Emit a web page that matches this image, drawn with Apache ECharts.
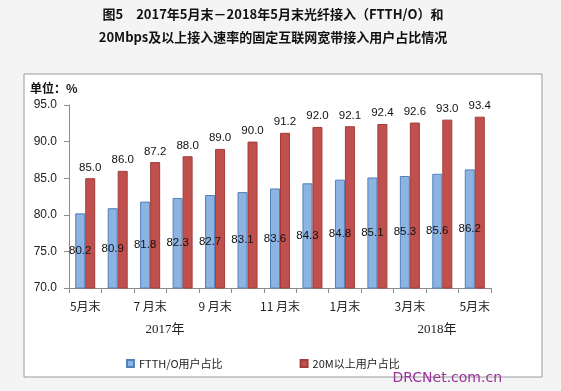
<!DOCTYPE html>
<html><head><meta charset="utf-8">
<script src="https://cdn.jsdelivr.net/npm/echarts@6/dist/echarts.min.js"></script>
<style>html,body{margin:0;padding:0;background:#f4f4f4}#c{width:561px;height:391px}</style>
</head><body><div id="c"></div>
<script>
const categories = ['5月末','6月末','7 月末','8月末','9 月末','10月末','11 月末','12月末','1月末','2月末','3月末','4月末','5月末'];
const ftthValues = [80.2,80.9,81.8,82.3,82.7,83.1,83.6,84.3,84.8,85.1,85.3,85.6,86.2];
const m20Values = [85.0,86.0,87.2,88.0,89.0,90.0,91.2,92.0,92.1,92.4,92.6,93.0,93.4];
const seriesNames = ['FTTH/O用户占比','20M以上用户占比'];
const yearLabels = ['2017年','2018年'];
const titleText = '图5　2017年5月末－2018年5月末光纤接入（FTTH/O）和\n20Mbps及以上接入速率的固定互联网宽带接入用户占比情况';

const CJK = '"Noto Sans CJK SC","Noto Sans",sans-serif';
const NUM = '"Liberation Sans","Noto Sans CJK SC",sans-serif';
const chart = echarts.init(document.getElementById('c'), null, {renderer:'canvas'});
chart.setOption({
  backgroundColor:'#f4f4f4',
  animation:false,
  title:{text:titleText,left:268,top:-2,textAlign:'center',
    textStyle:{fontFamily:CJK,fontSize:13,fontWeight:'bold',color:'#111',lineHeight:23}},
  graphic:[
    {type:'rect',z:-10,shape:{x:24,y:74,width:518,height:303},style:{fill:'#fff',stroke:'#9a9a9a',lineWidth:1}},
    {type:'text',left:30,top:82,style:{text:'单位：%',font:'bold 12px '+CJK,fill:'#111'}},
    {type:'text',x:165,y:330,style:{text:yearLabels[0],font:'13px "Liberation Serif","Noto Sans CJK SC",serif',fill:'#222',align:'center',verticalAlign:'middle'}},
    {type:'text',x:437,y:330,style:{text:yearLabels[1],font:'13px "Liberation Serif","Noto Sans CJK SC",serif',fill:'#222',align:'center',verticalAlign:'middle'}},
    {type:'text',x:502,y:378,style:{text:'DRCNet.com.cn',font:'14px "DejaVu Sans",sans-serif',fill:'#993399',align:'right',verticalAlign:'middle'}}
  ],
  legend:{top:353,left:121,itemWidth:7,itemHeight:7,itemGap:77,icon:'rect',
    textStyle:{fontFamily:CJK,fontSize:11,color:'#222'},data:seriesNames},
  grid:{left:69,right:70,top:105,bottom:103,containLabel:false},
  xAxis:{type:'category',data:categories,
    axisLine:{lineStyle:{color:'#8c8c8c'}},
    axisTick:{show:true,interval:0,length:5,lineStyle:{color:'#8c8c8c'}},
    axisLabel:{interval:1,margin:12,fontFamily:CJK,fontSize:12,color:'#222'}},
  yAxis:{type:'value',min:70,max:95,interval:5,
    axisLine:{show:true,lineStyle:{color:'#8c8c8c'}},
    axisTick:{show:true,length:5,lineStyle:{color:'#8c8c8c'}},
    splitLine:{show:false},
    axisLabel:{formatter:v=>v.toFixed(1),margin:12,fontFamily:NUM,fontSize:12,color:'#222'}},
  series:[
    {name:seriesNames[0],type:'bar',data:ftthValues,barWidth:10,barGap:'0%',
      itemStyle:{color:'#8db3e2',borderColor:'#4f81bd',borderWidth:1},
      label:{show:true,position:'inside',formatter:p=>p.value.toFixed(1),fontFamily:NUM,fontSize:11.5,color:'#111'}},
    {name:seriesNames[1],type:'bar',data:m20Values,barWidth:10,
      itemStyle:{color:'#c0504d',borderColor:'#a33c39',borderWidth:1},
      label:{show:true,position:'top',distance:5,formatter:p=>p.value.toFixed(1),fontFamily:NUM,fontSize:11.5,color:'#111'}}
  ]
});
</script></body></html>
